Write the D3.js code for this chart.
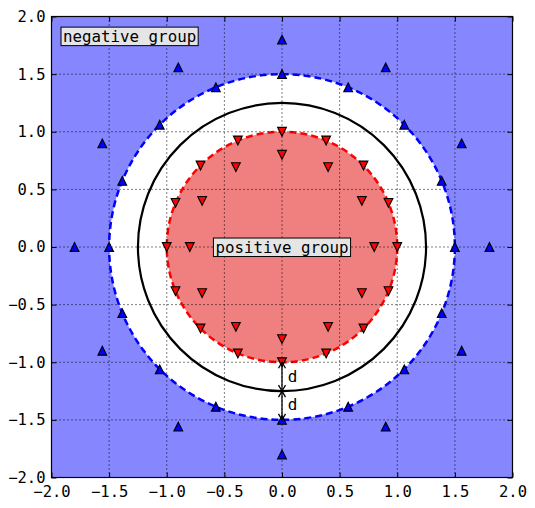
<!DOCTYPE html>
<html><head><meta charset="utf-8">
<script src="https://cdn.jsdelivr.net/npm/d3@7"></script>
<style>body{margin:0;background:#fff}svg{display:block}</style>
</head><body><div id="c"></div>
<script>
// Tick values
const ticks = [-2.0, -1.5, -1.0, -0.5, 0.0, 0.5, 1.0, 1.5, 2.0];
// Positive group points (red, down-triangles)
const posX = [1, 0.924, 0.707, 0.383, 0, -0.383, -0.707, -0.924, -1, -0.924, -0.707, -0.383, 0, 0.383, 0.707, 0.924,
              0.8, 0.693, 0.4, 0, -0.4, -0.693, -0.8, -0.693, -0.4, 0, 0.4, 0.693];
const posY = [0, 0.383, 0.707, 0.924, 1, 0.924, 0.707, 0.383, 0, -0.383, -0.707, -0.924, -1, -0.924, -0.707, -0.383,
              0, 0.4, 0.693, 0.8, 0.693, 0.4, 0, -0.4, -0.693, -0.8, -0.693, -0.4];
// Negative group points (blue, up-triangles)
const negX = [1.5, 1.386, 1.061, 0.574, 0, -0.574, -1.061, -1.386, -1.5, -1.386, -1.061, -0.574, 0, 0.574, 1.061, 1.386,
              1.8, 1.559, 0.9, 0, -0.9, -1.559, -1.8, -1.559, -0.9, 0, 0.9, 1.559];
const negY = [0, 0.574, 1.061, 1.386, 1.5, 1.386, 1.061, 0.574, 0, -0.574, -1.061, -1.386, -1.5, -1.386, -1.061, -0.574,
              0, 0.9, 1.559, 1.8, 1.559, 0.9, 0, -0.9, -1.559, -1.8, -1.559, -0.9];
// Circles: radius
const circleR = [1.5, 1.25, 1.0];
const labels = [{t:"negative group", x:-1.9, y:1.83, anchor:"start"}, {t:"positive group", x:0, y:0, anchor:"middle"}];
const arrows = [[-1.0, -1.25], [-1.25, -1.5]];

const W = 535, H = 508;
const m = {l:51.5, t:16.5, r:22.5, b:30.5};
const iw = W - m.l - m.r, ih = H - m.t - m.b;
const x = d3.scaleLinear().domain([-2, 2]).range([0, iw]);
const y = d3.scaleLinear().domain([-2, 2]).range([ih, 0]);
const font = "'DejaVu Sans Mono', monospace";

const svg = d3.select("#c").append("svg").attr("width", W).attr("height", H);
const g = svg.append("g").attr("transform", `translate(${m.l},${m.t})`);
g.append("defs").append("clipPath").attr("id","clip").append("rect").attr("width", iw).attr("height", ih);

g.append("rect").attr("width", iw).attr("height", ih).attr("fill", "#8686ff");
const cg = g.append("g").attr("clip-path","url(#clip)");
const rx = r => x(r) - x(0);
cg.append("circle").attr("cx", x(0)).attr("cy", y(0)).attr("r", rx(circleR[0])).attr("fill", "#fff");
cg.append("circle").attr("cx", x(0)).attr("cy", y(0)).attr("r", rx(circleR[2])).attr("fill", "#f08080");

// grid
const grid = g.append("g");
ticks.forEach(t => {
  grid.append("line").attr("x1", x(t)).attr("x2", x(t)).attr("y1", 0).attr("y2", ih)
    .attr("stroke", "#000").attr("stroke-width", 1).attr("stroke-dasharray", "1,3");
  grid.append("line").attr("y1", y(t)).attr("y2", y(t)).attr("x1", 0).attr("x2", iw)
    .attr("stroke", "#000").attr("stroke-width", 1).attr("stroke-dasharray", "1,3");
});

cg.append("circle").attr("cx", x(0)).attr("cy", y(0)).attr("r", rx(circleR[0])).attr("fill", "none")
  .attr("stroke", "#0000ff").attr("stroke-width", 2.5).attr("stroke-dasharray", "7,4");
cg.append("circle").attr("cx", x(0)).attr("cy", y(0)).attr("r", rx(circleR[1])).attr("fill", "none")
  .attr("stroke", "#000").attr("stroke-width", 2.2);
cg.append("circle").attr("cx", x(0)).attr("cy", y(0)).attr("r", rx(circleR[2])).attr("fill", "none")
  .attr("stroke", "#ff0000").attr("stroke-width", 2.5).attr("stroke-dasharray", "7,4");

// markers
const s = 4.4;
const up = `M0,${-s}L${s},${s}L${-s},${s}Z`;
const down = `M0,${s}L${s},${-s}L${-s},${-s}Z`;
g.append("g").selectAll("path").data(negX.map((v,i)=>[v,negY[i]])).join("path")
  .attr("d", up).attr("transform", d => `translate(${x(d[0])},${y(d[1])})`)
  .attr("fill", "#0000ff").attr("stroke", "#000").attr("stroke-width", 1.1);
g.append("g").selectAll("path").data(posX.map((v,i)=>[v,posY[i]])).join("path")
  .attr("d", down).attr("transform", d => `translate(${x(d[0])},${y(d[1])})`)
  .attr("fill", "#ff0000").attr("stroke", "#000").attr("stroke-width", 1.1);

// arrows
arrows.forEach(([a,b]) => {
  const y1 = y(a), y2 = y(b), cx = x(0), h = 6, w = 3.5;
  const ag = g.append("g").attr("stroke", "#000").attr("stroke-width", 1.3).attr("fill", "none");
  ag.append("line").attr("x1", cx).attr("x2", cx).attr("y1", y1).attr("y2", y2);
  ag.append("path").attr("d", `M${cx-w},${y1+h}L${cx},${y1}L${cx+w},${y1+h}`);
  ag.append("path").attr("d", `M${cx-w},${y2-h}L${cx},${y2}L${cx+w},${y2-h}`);
  g.append("text").attr("x", x(0.05)).attr("y", (y1+y2)/2 + 5).text("d")
    .attr("font-family", font).attr("font-size", 16).attr("fill", "#000");
});

// axes
const tf = d => d3.format(".1f")(d).replace("-", "\u2212");
const ax = [
  g.append("g").attr("transform", `translate(0,${ih})`).call(d3.axisBottom(x).tickValues(ticks).tickFormat(tf).tickSizeInner(-5).tickSizeOuter(0).tickPadding(8)),
  g.append("g").call(d3.axisTop(x).tickValues(ticks).tickFormat("").tickSizeInner(-5).tickSizeOuter(0)),
  g.append("g").call(d3.axisLeft(y).tickValues(ticks).tickFormat(tf).tickSizeInner(-5).tickSizeOuter(0).tickPadding(6)),
  g.append("g").attr("transform", `translate(${iw},0)`).call(d3.axisRight(y).tickValues(ticks).tickFormat("").tickSizeInner(-5).tickSizeOuter(0))
];
ax.forEach(a => { a.select(".domain").remove(); a.selectAll("text").attr("font-family", font).attr("font-size", 15.5).attr("fill","#000"); a.selectAll("line").attr("stroke","#000"); });
g.append("rect").attr("width", iw).attr("height", ih).attr("fill", "none").attr("stroke", "#000").attr("stroke-width", 1.2);

// label boxes
labels.forEach(L => {
  const tg = g.append("g");
  const t = tg.append("text").attr("x", x(L.x)).attr("y", y(L.y)).attr("dy", "0.35em").attr("text-anchor", L.anchor)
    .attr("font-family", font).attr("font-size", 15.8).attr("fill", "#000").text(L.t);
  const bb = t.node().getBBox();
  tg.insert("rect", "text").attr("x", bb.x - 2).attr("y", bb.y + 0.5).attr("width", bb.width + 4).attr("height", bb.height - 0.5)
    .attr("fill", "#e5e5e5").attr("stroke", "#000").attr("stroke-width", 1);
});
</script></body></html>
